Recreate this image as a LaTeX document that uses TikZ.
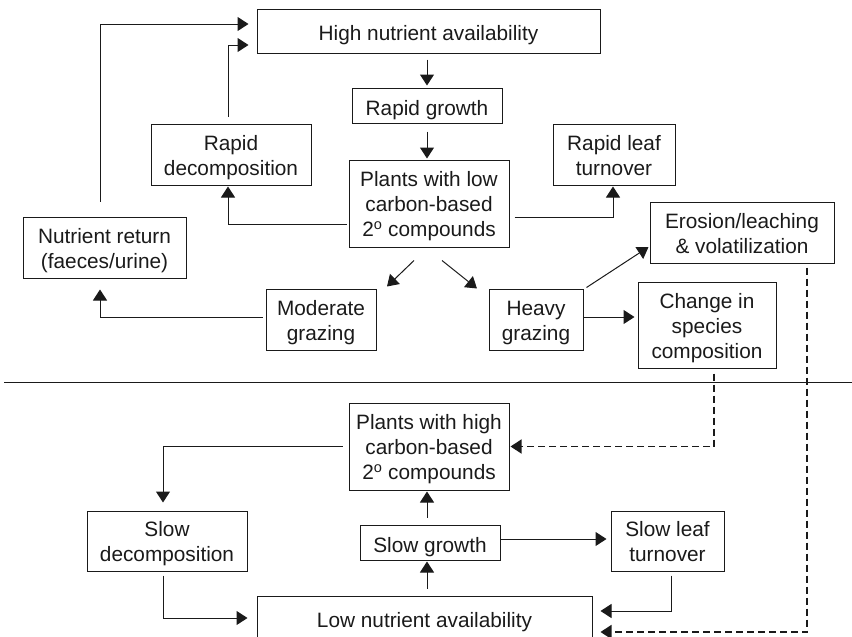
\documentclass[tikz,border=0pt]{standalone}
\usepackage{fontspec}
\setmainfont{Liberation Sans}
\usetikzlibrary{arrows.meta}
\definecolor{ink}{HTML}{1A1A1A}
\tikzset{
  box/.style={draw=ink, line width=1pt, text=ink, inner sep=0pt, align=center,
    font=\fontsize{20.8}{25}\selectfont},
  boxone/.style={box, text height=19pt, text depth=0pt},
  boxtwo/.style={box, text height=46pt, text depth=4.4pt},
  boxthree/.style={box, text height=71pt, text depth=4.4pt},
  arr/.style={draw=ink, line width=1pt, -{Triangle[length=11pt,width=14pt]}},
  darr/.style={arr, line width=1.4pt, dash pattern=on 7pt off 4pt}
}
\begin{document}
\begin{tikzpicture}[x=1pt,y=-1pt]
\useasboundingbox (0,0) rectangle (852,637);
\clip (0,0) rectangle (852,637);

% upper half: high nutrient cycle
\node[boxone, minimum width=343pt, minimum height=44pt] (high) at (428.5,31) {High nutrient availability};
\node[boxone, minimum width=150pt, minimum height=35pt] (rgrowth) at (427,105.5) {Rapid growth};
\node[boxthree, minimum width=160pt, minimum height=87pt] (plow) at (429,203.5) {Plants with low\\carbon-based\\2\textsuperscript{o} compounds};
\node[boxtwo, minimum width=160pt, minimum height=61pt] (rdecomp) at (231,154.5) {Rapid\\decomposition};
\node[boxtwo, minimum width=122pt, minimum height=61pt] (rleaf) at (614,154.5) {Rapid leaf\\turnover};
\node[boxtwo, minimum width=163pt, minimum height=61pt] (nret) at (104.5,247.5) {Nutrient return\\(faeces/urine)};
\node[boxtwo, minimum width=110pt, minimum height=61pt] (mod) at (321,319.5) {Moderate\\grazing};
\node[boxtwo, minimum width=94pt, minimum height=61pt] (heavy) at (536,319.5) {Heavy\\grazing};
\node[boxtwo, minimum width=184pt, minimum height=61pt] (eros) at (742,232.5) {Erosion/leaching\\\& volatilization};
\node[boxthree, minimum width=138pt, minimum height=86pt] (change) at (707,325) {Change in\\species\\composition};

% dividing rule
\coordinate (ruleL) at (4,382);
\coordinate (ruleR) at (852,382);
\draw[ink, line width=1pt] (ruleL) -- (ruleR);

% lower half: low nutrient cycle
\node[boxthree, minimum width=160pt, minimum height=87pt] (phigh) at (429,446.5) {Plants with high\\carbon-based\\2\textsuperscript{o} compounds};
\node[boxtwo, minimum width=160pt, minimum height=60pt] (sdecomp) at (167,541) {Slow\\decomposition};
\node[boxone, minimum width=140pt, minimum height=35pt] (sgrowth) at (430,542.5) {Slow growth};
\node[boxtwo, minimum width=113pt, minimum height=60pt] (sleaf) at (667.5,541) {Slow leaf\\turnover};
\node[boxone, minimum width=335pt, minimum height=44pt] (low) at (424.5,618) {Low nutrient availability};

% connectors, upper half
\draw[arr, shorten <=15pt, shorten >=8pt] ([xshift=-4.5pt]nret.north) |- ([yshift=7pt]high.west);
\draw[arr, shorten <=7pt, shorten >=8pt] ([xshift=-3pt]rdecomp.north) |- ([yshift=-14pt]high.west);
\draw[arr, shorten <=6pt, shorten >=2pt] (high.south -| rgrowth.north) -- (rgrowth.north);
\draw[arr, shorten <=8pt, shorten >=1pt] (rgrowth.south) -- (rgrowth.south |- plow.north);
\draw[arr, shorten <=2pt, shorten >=1pt] ([yshift=-20.5pt]plow.west) -| ([xshift=-3pt]rdecomp.south);
\draw[arr, shorten <=5pt, shorten >=1pt] ([yshift=-13.5pt]plow.east) -| ([xshift=-1pt]rleaf.south);
\draw[arr] ([xshift=-15pt,yshift=-13pt]plow.south) -- ([xshift=66pt,yshift=2pt]mod.north);
\draw[arr] ([xshift=13pt,yshift=-13pt]plow.south) -- ([xshift=-59pt]heavy.north);
\draw[arr] ([xshift=3pt,yshift=1pt]heavy.north east) -- ([xshift=-1pt,yshift=-14.5pt]eros.west);
\draw[arr, shorten >=3pt] ([yshift=2.5pt]heavy.east) -- ([yshift=2.5pt]heavy.east -| change.west);
\draw[arr, shorten <=3pt, shorten >=11pt] ([yshift=2.5pt]mod.west) -| ([xshift=-4.5pt]nret.south);

% dashed links from the grazing outcomes
\draw[darr, shorten <=5pt, shorten >=1pt] ([xshift=7pt]change.south) |- (phigh.east);
\draw[darr, shorten <=4pt, shorten >=8pt] ([xshift=65pt]eros.south) |- ([yshift=-14pt]low.east);

% connectors, lower half
\draw[arr, shorten <=4pt, shorten >=8pt] ([xshift=3.5pt]sleaf.south) |- ([yshift=7pt]low.east);
\draw[arr, shorten >=4pt] ([yshift=3.5pt]sgrowth.east) -- ([yshift=3.5pt]sgrowth.east -| sleaf.west);
\draw[arr, shorten <=7pt, shorten >=1pt] ([xshift=2.5pt]low.north) -- ([xshift=-3pt]sgrowth.south);
\draw[arr, shorten <=7pt, shorten >=1pt] ([xshift=-3pt]sgrowth.north) -- ([xshift=-3pt]sgrowth.north |- phigh.south);
\draw[arr, shorten <=6pt, shorten >=8pt] (phigh.west) -| ([xshift=-4pt]sdecomp.north);
\draw[arr, shorten <=4pt, shorten >=9pt] ([xshift=-4pt]sdecomp.south) |- (low.west);
\end{tikzpicture}
\end{document}
